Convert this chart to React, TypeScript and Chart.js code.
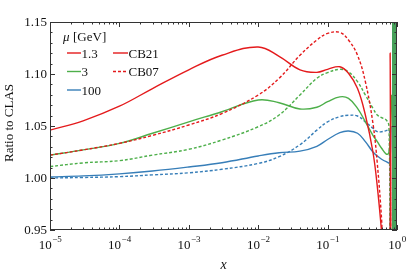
import { useEffect, useRef } from 'react';
import { Chart, registerables } from 'chart.js';

Chart.register(...registerables);

// ---- data ----
const xMain = [1e-5, 3e-5, 1e-4, 3e-4, 1e-3, 3e-3, 1e-2, 2e-2, 4e-2, 7e-2, 0.1, 0.15, 0.2, 0.27, 0.35, 0.45, 0.52, 0.6];

const redSolidX = [...xMain, 0.64, 0.78, 0.797, 0.815];
const redSolidY = [1.046, 1.055, 1.069, 1.086, 1.104, 1.118, 1.126, 1.117, 1.104, 1.1016, 1.1045, 1.107, 1.1007, 1.086, 1.0606, 1.025, 0.992, 0.948, 0.92, 0.92, 1.12, 0.92];

const redDashX = [...xMain, 0.64, 0.775, 0.795, 0.815];
const redDashY = [1.022, 1.027, 1.0333, 1.041, 1.051, 1.062, 1.0798, 1.0959, 1.118, 1.1327, 1.139, 1.140, 1.1327, 1.118, 1.0926, 1.0526, 1.014, 0.96, 0.92, 0.92, 1.035, 0.92];

const greenSolidX = [...xMain, 0.7, 0.76, 0.8, 0.84];
const greenSolidY = [1.022, 1.027, 1.0333, 1.043, 1.054, 1.0637, 1.075, 1.0724, 1.0664, 1.068, 1.0734, 1.078, 1.0766, 1.067, 1.054, 1.041, 1.035, 1.0286, 1.023, 1.024, 1.04, 1.08];

const greenDashX = [...xMain, 0.7, 0.765, 0.79];
const greenDashY = [1.011, 1.0145, 1.0167, 1.022, 1.0276, 1.0365, 1.0493, 1.0606, 1.0798, 1.0959, 1.1013, 1.1045, 1.102, 1.0926, 1.0798, 1.067, 1.0606, 1.058, 1.0558, 1.05, 0.92];

const blueSolidX = [...xMain, 0.7, 0.78, 0.82];
const blueSolidY = [1.001, 1.002, 1.004, 1.0067, 1.0106, 1.0147, 1.0212, 1.0243, 1.0258, 1.0305, 1.037, 1.0436, 1.0452, 1.043, 1.035, 1.025, 1.0212, 1.018, 1.0157, 1.0147, 1.05];

const blueDashX = [...xMain, 0.7, 0.78, 0.8];
const blueDashY = [1.000, 1.0005, 1.0013, 1.003, 1.005, 1.0084, 1.014, 1.0205, 1.032, 1.046, 1.054, 1.059, 1.0603, 1.0596, 1.054, 1.0478, 1.0445, 1.0445, 1.0455, 1.046, 0.92];

const bandX = [0.845, 1];
const bandY = [1.15, 1.15];

const xMin = 1e-5;
const xMax = 1;
const yMin = 0.95;
const yMax = 1.15;
const yTickValues = [0.95, 1.0, 1.05, 1.1, 1.15];
const yTickLabels = ['0.95', '1.00', '1.05', '1.10', '1.15'];
const xTickExponents = [-5, -4, -3, -2, -1, 0];
const xTickExpLabels = ['\u22125', '\u22124', '\u22123', '\u22122', '\u22121', '0'];

const muLabels = ['1.3', '3', '100'];
const setLabels = ['CB21', 'CB07'];
const legendTitleSymbol = 'μ';
const legendTitleUnit = '[GeV]';
const yAxisTitle = 'Ratio to CLAS';
const xAxisTitle = 'x';

const RED = '#e41a1c';
const GREEN = '#4daf4a';
const BLUE = '#377eb8';
const FONT = "'Liberation Serif', 'Times New Roman', serif";

const pts = (xs: number[], ys: number[]) => xs.map((x, i) => ({ x, y: ys[i] }));

const paperPlugin = {
  id: 'paperAxes',
  afterDraw(chart: any) {
    const { ctx, chartArea: a, scales } = chart;
    const xs = scales.x;
    const ys = scales.y;
    ctx.save();
    ctx.strokeStyle = '#333';
    ctx.lineWidth = 1;
    ctx.strokeRect(a.left + 0.5, a.top + 0.5, a.right - a.left - 1, a.bottom - a.top - 1);

    const tick = (p: number, len: number, horiz: boolean) => {
      ctx.beginPath();
      if (horiz) {
        const yy = Math.round(p) + 0.5;
        ctx.moveTo(a.left, yy); ctx.lineTo(a.left + len, yy);
        ctx.moveTo(a.right, yy); ctx.lineTo(a.right - len, yy);
      } else {
        const xx = Math.round(p) + 0.5;
        ctx.moveTo(xx, a.bottom); ctx.lineTo(xx, a.bottom - len);
        ctx.moveTo(xx, a.top); ctx.lineTo(xx, a.top + len);
      }
      ctx.stroke();
    };
    for (let k = 0; k <= 20; k++) {
      const v = yMin + k * 0.01;
      tick(ys.getPixelForValue(v), k % 5 === 0 ? 5 : 2.5, true);
    }
    for (let e = -5; e <= 0; e++) {
      tick(xs.getPixelForValue(Math.pow(10, e)), 5, false);
      if (e < 0) {
        for (let m = 2; m <= 9; m++) tick(xs.getPixelForValue(m * Math.pow(10, e)), 2.5, false);
      }
    }

    // y tick labels
    ctx.fillStyle = '#111';
    ctx.font = `13px ${FONT}`;
    ctx.textAlign = 'right';
    ctx.textBaseline = 'middle';
    yTickValues.forEach((v, i) => {
      ctx.fillText(yTickLabels[i], a.left - 3, ys.getPixelForValue(v) + 1);
    });

    // x tick labels with superscripts
    ctx.textBaseline = 'alphabetic';
    ctx.textAlign = 'left';
    xTickExponents.forEach((e, i) => {
      const px = xs.getPixelForValue(Math.pow(10, e));
      ctx.font = `13px ${FONT}`;
      const w1 = ctx.measureText('10').width;
      ctx.font = `9px ${FONT}`;
      const w2 = ctx.measureText(xTickExpLabels[i]).width;
      const start = px - (w1 + w2) / 2;
      ctx.font = `13px ${FONT}`;
      ctx.fillText('10', start, a.bottom + 18.5);
      ctx.font = `9px ${FONT}`;
      ctx.fillText(xTickExpLabels[i], start + w1 + 0.5, a.bottom + 12);
    });

    // axis titles
    ctx.font = `italic 14px ${FONT}`;
    ctx.textAlign = 'center';
    ctx.fillText(xAxisTitle, (a.left + a.right) / 2, a.bottom + 39);
    ctx.save();
    ctx.translate(10, (a.top + a.bottom) / 2 - 3);
    ctx.rotate(-Math.PI / 2);
    ctx.font = `13px ${FONT}`;
    ctx.textBaseline = 'middle';
    ctx.fillText(yAxisTitle, 0, 0);
    ctx.restore();

    // legend
    ctx.textAlign = 'left';
    ctx.textBaseline = 'alphabetic';
    ctx.font = `italic 13px ${FONT}`;
    ctx.fillText(legendTitleSymbol, 63, 40.5);
    ctx.font = `13px ${FONT}`;
    ctx.fillText(legendTitleUnit, 73, 40.5);
    const rows = [53, 71.5, 90];
    const cols = [RED, GREEN, BLUE];
    ctx.lineWidth = 1.4;
    muLabels.forEach((lab, i) => {
      ctx.strokeStyle = cols[i];
      ctx.setLineDash([]);
      ctx.beginPath();
      ctx.moveTo(67, rows[i]); ctx.lineTo(81, rows[i]);
      ctx.stroke();
      ctx.fillText(lab, 81.5, rows[i] + 4.5);
    });
    setLabels.forEach((lab, i) => {
      ctx.strokeStyle = RED;
      ctx.setLineDash(i === 0 ? [] : [3, 2]);
      ctx.beginPath();
      ctx.moveTo(113, rows[i]); ctx.lineTo(128, rows[i]);
      ctx.stroke();
      ctx.fillText(lab, 128.5, rows[i] + 4.5);
    });
    ctx.restore();
  },
};

export default function App() {
  const ref = useRef<HTMLCanvasElement | null>(null);
  useEffect(() => {
    if (!ref.current) return;
    const line = (data: any, color: string, dashed: boolean) => ({
      data,
      borderColor: color,
      backgroundColor: color,
      borderWidth: 1.4,
      borderDash: dashed ? [3, 2] : [],
      pointRadius: 0,
      tension: 0.4,
      fill: false,
      order: 1,
    });
    const chart = new Chart(ref.current, {
      type: 'line',
      data: {
        datasets: [
          {
            data: pts(bandX, bandY),
            borderWidth: 0,
            backgroundColor: '#47a15a',
            borderColor: '#47a15a',
            pointRadius: 0,
            fill: 'start',
            order: 0,
          } as any,
          line(pts(redSolidX, redSolidY), RED, false),
          line(pts(redDashX, redDashY), RED, true),
          line(pts(greenSolidX, greenSolidY), GREEN, false),
          line(pts(greenDashX, greenDashY), GREEN, true),
          line(pts(blueSolidX, blueSolidY), BLUE, false),
          line(pts(blueDashX, blueDashY), BLUE, true),
        ],
      },
      options: {
        animation: false,
        responsive: false,
        maintainAspectRatio: false,
        events: [],
        layout: { padding: { left: 50, right: 10, top: 22, bottom: 47 } },
        plugins: { legend: { display: false }, tooltip: { enabled: false } },
        scales: {
          x: { type: 'logarithmic', min: xMin, max: xMax, display: false },
          y: { type: 'linear', min: yMin, max: yMax, display: false },
        },
      },
      plugins: [paperPlugin],
    });
    return () => chart.destroy();
  }, []);
  return (
    <div style={{ position: 'absolute', left: 0, top: 0, width: 407, height: 277, background: '#fff' }}>
      <canvas ref={ref} width={407} height={277} style={{ width: 407, height: 277 }} />
    </div>
  );
}
